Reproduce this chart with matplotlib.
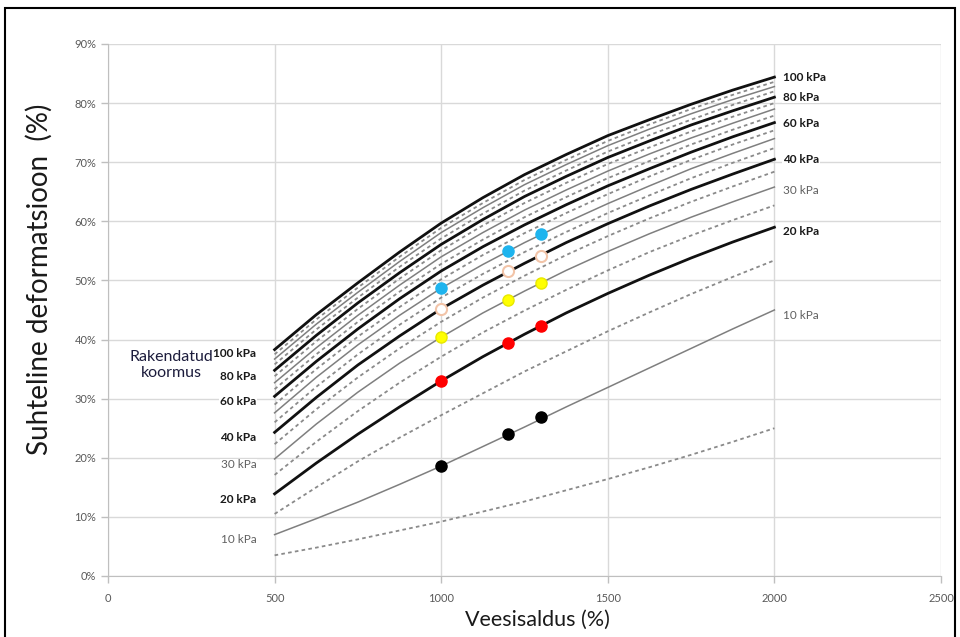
import matplotlib.pyplot as plt
from matplotlib.patches import Rectangle
from matplotlib.ticker import FuncFormatter

plt.rcParams["font.family"] = ["Lato", "DejaVu Sans"]

# water content (%) at which each curve was read
W = [500, 625, 750, 875, 1000, 1125, 1250, 1375, 1500, 1625, 1750, 1875, 2000]

# relative deformation (%) for each applied load (kPa)
KPA_5 = [3.5, 4.8, 6.2, 7.7, 9.2, 10.9, 12.6, 14.5, 16.4, 18.4, 20.5, 22.7, 25.0]
KPA_10 = [7.0, 9.7, 12.5, 15.5, 18.6, 21.9, 25.2, 28.6, 31.9, 35.2, 38.5, 41.8, 45.0]
KPA_15 = [10.5, 15.0, 19.4, 23.4, 27.2, 30.9, 34.6, 38.0, 41.4, 44.6, 47.7, 50.6, 53.4]
KPA_20 = [13.9, 19.1, 24.0, 28.6, 33.0, 37.1, 40.9, 44.5, 47.8, 50.9, 53.8, 56.5, 59.0]
KPA_25 = [17.1, 22.7, 27.9, 32.7, 37.1, 41.2, 44.9, 48.4, 51.7, 54.8, 57.6, 60.2, 62.7]
KPA_30 = [19.8, 25.7, 31.1, 36.0, 40.4, 44.5, 48.2, 51.7, 54.9, 57.9, 60.7, 63.3, 65.8]
KPA_35 = [22.3, 28.2, 33.6, 38.5, 43.0, 47.1, 50.8, 54.3, 57.5, 60.5, 63.3, 65.9, 68.4]
KPA_40 = [24.3, 30.2, 35.7, 40.6, 45.2, 49.2, 52.9, 56.4, 59.6, 62.6, 65.4, 68.0, 70.5]
KPA_45 = [26.0, 32.0, 37.5, 42.5, 47.1, 51.1, 54.8, 58.2, 61.4, 64.4, 67.3, 69.9, 72.4]
KPA_50 = [27.6, 33.6, 39.1, 44.1, 48.7, 52.7, 56.4, 59.8, 63.0, 66.0, 68.9, 71.5, 74.0]
KPA_55 = [29.0, 35.0, 40.5, 45.5, 50.2, 54.3, 58.0, 61.4, 64.6, 67.6, 70.4, 73.0, 75.4]
KPA_60 = [30.4, 36.3, 41.8, 46.9, 51.6, 55.7, 59.4, 62.8, 66.0, 68.9, 71.7, 74.3, 76.7]
KPA_65 = [31.6, 37.5, 43.0, 48.1, 52.8, 56.9, 60.7, 64.1, 67.3, 70.2, 73.0, 75.5, 77.9]
KPA_70 = [32.7, 38.6, 44.1, 49.2, 54.0, 58.1, 61.9, 65.3, 68.5, 71.4, 74.1, 76.6, 79.0]
KPA_75 = [33.8, 39.7, 45.2, 50.3, 55.1, 59.3, 63.1, 66.5, 69.7, 72.5, 75.2, 77.7, 80.0]
KPA_80 = [34.8, 40.7, 46.2, 51.3, 56.1, 60.3, 64.2, 67.6, 70.8, 73.6, 76.3, 78.7, 81.0]
KPA_85 = [35.8, 41.7, 47.1, 52.3, 57.1, 61.3, 65.2, 68.6, 71.8, 74.6, 77.2, 79.7, 82.0]
KPA_90 = [36.7, 42.6, 48.0, 53.2, 58.1, 62.3, 66.2, 69.6, 72.8, 75.6, 78.2, 80.6, 82.8]
KPA_95 = [37.5, 43.4, 48.8, 54.0, 58.9, 63.1, 67.0, 70.4, 73.6, 76.4, 79.0, 81.4, 83.6]
KPA_100 = [38.3, 44.2, 49.6, 54.8, 59.7, 64.0, 67.9, 71.3, 74.5, 77.2, 79.8, 82.2, 84.4]

CURVES = [
    (5, KPA_5), (10, KPA_10), (15, KPA_15), (20, KPA_20), (25, KPA_25),
    (30, KPA_30), (35, KPA_35), (40, KPA_40), (45, KPA_45), (50, KPA_50),
    (55, KPA_55), (60, KPA_60), (65, KPA_65), (70, KPA_70), (75, KPA_75),
    (80, KPA_80), (85, KPA_85), (90, KPA_90), (95, KPA_95), (100, KPA_100),
]

# measured points
MEAS_W = [1000, 1200, 1300]
MEAS_50 = [48.7, 55.0, 57.9]
MEAS_40 = [45.2, 51.6, 54.1]
MEAS_30 = [40.4, 46.7, 49.6]
MEAS_20 = [33.0, 39.4, 42.3]
MEAS_10 = [18.6, 24.0, 26.9]

# curve labels
LEFT_LABELS = ["100 kPa", "80 kPa", "60 kPa", "40 kPa", "30 kPa", "20 kPa", "10 kPa"]
LEFT_Y = [37.6, 33.8, 29.6, 23.4, 18.8, 12.9, 6.1]
RIGHT_LABELS = ["100 kPa", "80 kPa", "60 kPa", "40 kPa", "30 kPa", "20 kPa", "10 kPa"]
RIGHT_Y = [84.4, 81.0, 76.6, 70.4, 65.3, 58.2, 44.0]
LABEL_BOLD = [True, True, True, True, False, True, False]

fig = plt.figure(figsize=(9.6, 6.37), dpi=100)
ax = fig.add_axes([108 / 960, 61 / 637, 833 / 960, 532 / 637])

GRID = "#d9d9d9"
for load, vals in CURVES:
    if load % 20 == 0:
        ax.plot(W, vals, color="#111111", lw=2.0, zorder=3)
    elif load % 10 == 0:
        ax.plot(W, vals, color="#7f7f7f", lw=1.1, zorder=2)
    else:
        ax.plot(W, vals, color="#8a8a8a", lw=1.3, dashes=(2.0, 1.8), zorder=2)

ms = 8
ax.plot(MEAS_W, MEAS_50, "o", ms=ms, mfc="#1eb4ee", mec="#1eb4ee", zorder=5)
ax.plot(MEAS_W, MEAS_40, "o", ms=ms, mfc="white", mec="#f2c4a8", mew=1.5, zorder=5)
ax.plot(MEAS_W, MEAS_30, "o", ms=ms, mfc="#ffff00", mec="#e8e800", zorder=5)
ax.plot(MEAS_W, MEAS_20, "o", ms=ms, mfc="#ff0000", mec="#ff0000", zorder=5)
ax.plot(MEAS_W, MEAS_10, "o", ms=ms, mfc="#000000", mec="#000000", zorder=5)

box = dict(facecolor="white", edgecolor="none", pad=0.5)
for txt, y, bold in zip(LEFT_LABELS, LEFT_Y, LABEL_BOLD):
    ax.text(445, y, txt, ha="right", va="center", fontsize=8.5,
            fontweight="bold" if bold else "normal",
            color="#1a1a1a" if bold else "#606060", bbox=box, zorder=4)
for txt, y, bold in zip(RIGHT_LABELS, RIGHT_Y, LABEL_BOLD):
    ax.text(2025, y, txt, ha="left", va="center", fontsize=8.5,
            fontweight="bold" if bold else "normal",
            color="#1a1a1a" if bold else "#606060", bbox=box, zorder=4)
ax.text(190, 35.7, "Rakendatud\nkoormus", ha="center", va="center",
        fontsize=11.5, color="#1c1c3c", linespacing=1.25, zorder=3)

ax.set_xlim(0, 2500)
ax.set_ylim(0, 90)
ax.set_xticks(range(0, 2501, 500))
ax.set_yticks(range(0, 91, 10))
ax.yaxis.set_major_formatter(FuncFormatter(lambda v, _: f"{v:.0f}%"))
ax.grid(True, color=GRID, lw=1.0, zorder=0)
ax.set_axisbelow(True)
for side in ("top", "right"):
    ax.spines[side].set_visible(False)
for side in ("left", "bottom"):
    ax.spines[side].set_color("#bfbfbf")
ax.tick_params(axis="both", colors="#bfbfbf", labelcolor="#595959",
               labelsize=8, length=5, width=1.0)
ax.tick_params(axis="x", pad=7)

ax.set_xlabel("Veesisaldus (%)", fontsize=15.5, color="#1a1a1a")
ax.xaxis.set_label_coords(0.516, -0.064)
ax.set_ylabel("Suhteline deformatsioon  (%)", fontsize=20, color="#1a1a1a")
ax.yaxis.set_label_coords(-0.066, 0.558)

fig.add_artist(Rectangle((5 / 960, -0.05), 950 / 960, 1.05 - 8 / 637,
                         transform=fig.transFigure, fill=False,
                         ec="black", lw=1.5))

fig.savefig("out.png", dpi=100)
